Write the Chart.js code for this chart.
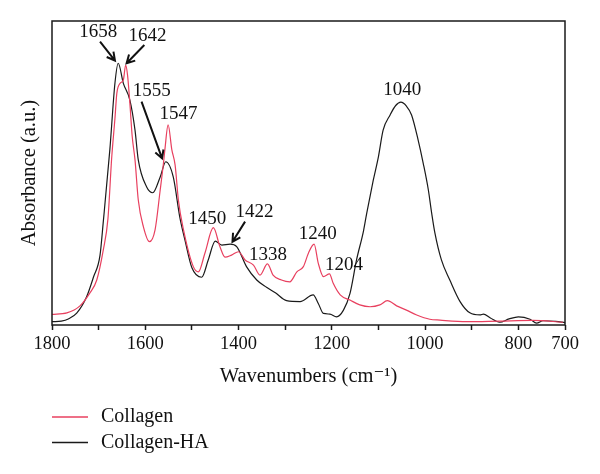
<!DOCTYPE html>
<html>
<head>
<meta charset="utf-8">
<script src="https://cdn.jsdelivr.net/npm/chart.js@4.4.1/dist/chart.umd.min.js"></script>
<style>
  html, body { margin: 0; padding: 0; background: #fff; }
  #c { display: block; }
</style>
</head>
<body>
<canvas id="c" width="600" height="474"></canvas>
<script>
// spektrum collagen (merah)
const collagenWn = [1800, 1768, 1740, 1719, 1704, 1690, 1680, 1672, 1665, 1661, 1654, 1647, 1642, 1638, 1633, 1628, 1622, 1615, 1604, 1591, 1579, 1568, 1561, 1558, 1551, 1543, 1536, 1529, 1518, 1497, 1486, 1472, 1454, 1440, 1429, 1415, 1400, 1386, 1368, 1354, 1338, 1326, 1308, 1290, 1275, 1261, 1250, 1238, 1229, 1218, 1205, 1197, 1182, 1161, 1140, 1118, 1097, 1081, 1061, 1040, 1018, 990, 968, 911, 840, 769, 704];
const collagenAbs = [3.5, 4.0, 6.3, 10.5, 14.8, 24.7, 35.0, 55.0, 68.0, 76.2, 79.5, 80.6, 85.5, 82.2, 72.9, 62.0, 54.3, 41.1, 32.3, 27.4, 31.3, 44.4, 53.2, 57.6, 65.8, 57.6, 52.6, 41.1, 31.3, 19.2, 17.5, 23.7, 32.0, 25.8, 22.3, 23.0, 24.1, 21.4, 19.7, 16.4, 20.1, 16.4, 14.8, 14.2, 17.5, 19.2, 23.7, 26.6, 20.3, 15.9, 16.8, 13.7, 9.9, 8.2, 6.6, 6.0, 6.6, 8.0, 6.3, 4.9, 3.3, 1.9, 1.6, 1.1, 1.3, 1.5, 0.9];

// spektrum collagen-HA (hitam)
const collagenHaWn = [1800, 1780, 1765, 1747, 1726, 1711, 1697, 1690, 1676, 1665, 1658, 1647, 1633, 1622, 1615, 1597, 1584, 1568, 1556, 1540, 1526, 1515, 1500, 1479, 1465, 1450, 1436, 1418, 1404, 1383, 1361, 1340, 1321, 1297, 1268, 1240, 1229, 1218, 1204, 1190, 1175, 1161, 1147, 1132, 1125, 1111, 1100, 1090, 1075, 1063, 1052, 1040, 1029, 1015, 1004, 993, 986, 979, 965, 947, 925, 904, 882, 875, 860, 840, 820, 800, 775, 761, 747, 720, 700];
const collagenHaAbs = [1.1, 1.3, 2.0, 3.9, 9.2, 15.8, 23.0, 34.0, 57.6, 79.6, 86.1, 79.5, 74.0, 64.1, 54.3, 45.4, 43.5, 48.7, 53.7, 48.7, 35.5, 28.0, 18.8, 15.7, 21.4, 27.6, 26.3, 26.6, 25.8, 19.2, 14.8, 12.4, 10.6, 8.0, 7.7, 9.9, 7.1, 3.8, 3.6, 2.7, 4.9, 10.4, 21.4, 31.0, 36.9, 47.7, 55.4, 64.1, 69.1, 72.2, 73.3, 72.0, 69.1, 60.9, 53.2, 44.4, 36.9, 30.3, 21.4, 14.8, 7.7, 4.0, 3.3, 3.6, 2.3, 0.9, 2.0, 2.7, 1.9, 0.6, 1.4, 1.2, 0.8];

// label tick sumbu x
const xTickLabels = [1800, 1600, 1400, 1200, 1000, 800, 700];

// label puncak
const peakLabels = ['1658', '1642', '1555', '1547', '1450', '1422', '1338', '1240', '1204', '1040'];
const peakLabelWn = [1701, 1595, 1586, 1529, 1467, 1366, 1337, 1230, 1174, 1049];
const peakLabelAbs = [96.4, 95.2, 77.1, 69.3, 34.9, 37.3, 23.0, 29.9, 19.7, 77.3];

// panah: dari (wn, abs) ke (wn, abs)
const arrowFromWn = [1697, 1602, 1608, 1386];
const arrowFromAbs = [93.2, 92.1, 73.5, 34.0];
const arrowToWn = [1665, 1640, 1564, 1413];
const arrowToAbs = [87.0, 86.1, 54.8, 27.4];

const serif = '"Liberation Serif", "DejaVu Serif", serif';

const decor = {
    id: 'decor',
    afterDatasetsDraw(chart) {
        const ctx = chart.ctx;
        const a = chart.chartArea;
        const x = chart.scales.x;
        const y = chart.scales.y;
        ctx.save();

        // bingkai
        ctx.strokeStyle = '#1a1a1a';
        ctx.lineWidth = 1.5;
        ctx.strokeRect(a.left, a.top, a.right - a.left, a.bottom - a.top);

        // teks puncak
        ctx.font = '19px ' + serif;
        ctx.fillStyle = '#111';
        ctx.textAlign = 'center';
        ctx.textBaseline = 'middle';
        peakLabels.forEach((t, i) => {
            ctx.fillText(t, x.getPixelForValue(peakLabelWn[i]), y.getPixelForValue(peakLabelAbs[i]));
        });

        // panah
        ctx.lineWidth = 2;
        ctx.strokeStyle = '#111';
        for (let i = 0; i < arrowFromWn.length; i++) {
            const x1 = x.getPixelForValue(arrowFromWn[i]);
            const y1 = y.getPixelForValue(arrowFromAbs[i]);
            const x2 = x.getPixelForValue(arrowToWn[i]);
            const y2 = y.getPixelForValue(arrowToAbs[i]);
            const ang = Math.atan2(y2 - y1, x2 - x1);
            ctx.beginPath();
            ctx.moveTo(x1, y1);
            ctx.lineTo(x2, y2);
            ctx.moveTo(x2 - 9 * Math.cos(ang - 0.5), y2 - 9 * Math.sin(ang - 0.5));
            ctx.lineTo(x2, y2);
            ctx.lineTo(x2 - 9 * Math.cos(ang + 0.5), y2 - 9 * Math.sin(ang + 0.5));
            ctx.stroke();
        }

        // legenda
        ctx.textAlign = 'left';
        ctx.font = '20px ' + serif;
        chart.data.datasets.forEach((ds, i) => {
            const ly = 417 + i * 25.5;
            ctx.strokeStyle = ds.borderColor;
            ctx.lineWidth = 1.5;
            ctx.beginPath();
            ctx.moveTo(a.left, ly);
            ctx.lineTo(a.left + 36, ly);
            ctx.stroke();
            ctx.fillStyle = '#111';
            ctx.fillText(ds.label, a.left + 49, ly);
        });
        ctx.restore();
    }
};

const config = {
    type: 'line',
    data: {
        datasets: [
            {
                label: 'Collagen',
                data: collagenWn.map((w, i) => ({ x: w, y: collagenAbs[i] })),
                borderColor: '#e8405f',
                borderWidth: 1.2,
                pointRadius: 0,
                cubicInterpolationMode: 'monotone'
            },
            {
                label: 'Collagen-HA',
                data: collagenHaWn.map((w, i) => ({ x: w, y: collagenHaAbs[i] })),
                borderColor: '#1a1a1a',
                borderWidth: 1.2,
                pointRadius: 0,
                cubicInterpolationMode: 'monotone'
            }
        ]
    },
    options: {
        responsive: false,
        animation: false,
        layout: { padding: { top: 21, right: 35, bottom: 85, left: 0 } },
        plugins: {
            legend: { display: false },
            tooltip: { enabled: false }
        },
        scales: {
            x: {
                type: 'linear',
                reverse: true,
                min: 700,
                max: 1800,
                border: { display: false },
                grid: { drawOnChartArea: false, tickLength: 5, tickColor: '#1a1a1a', tickWidth: 1.5 },
                ticks: {
                    stepSize: 100,
                    autoSkip: false,
                    maxRotation: 0,
                    padding: 3,
                    color: '#111',
                    font: { family: serif, size: 18.5 },
                    callback: v => xTickLabels.includes(v) ? String(v) : ''
                },
                title: {
                    display: true,
                    text: 'Wavenumbers (cm⁻¹)',
                    color: '#111',
                    font: { family: serif, size: 20.5 },
                    padding: 0
                },
                afterFit: s => { s.height = 64; }
            },
            y: {
                min: 0,
                max: 100,
                border: { display: false },
                grid: { display: false },
                ticks: { display: false },
                title: {
                    display: true,
                    text: 'Absorbance (a.u.)',
                    color: '#111',
                    font: { family: serif, size: 20.5 },
                    padding: { top: 17.5, bottom: 0 }
                },
                afterFit: s => { s.width = 52; }
            }
        }
    },
    plugins: [decor]
};

const myChart = new Chart(document.getElementById('c'), config);
</script>
</body>
</html>
